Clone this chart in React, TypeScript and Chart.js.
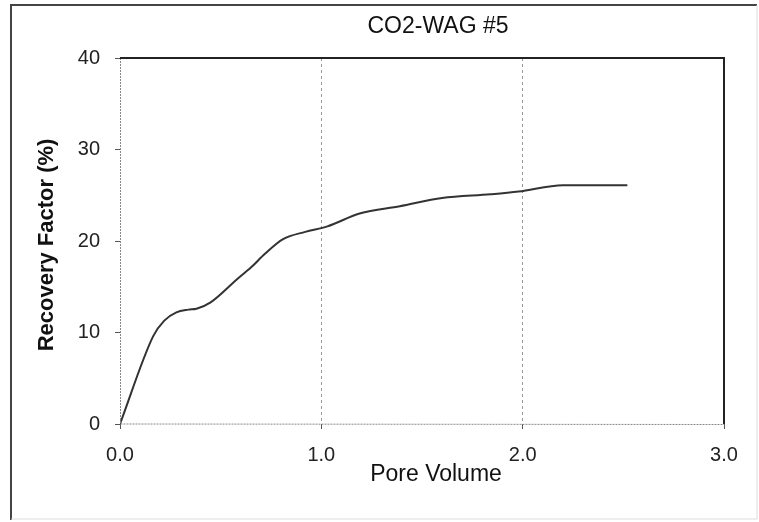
import React, { useEffect, useRef } from "react";
import { Chart, registerables } from "chart.js";

Chart.register(...registerables);

const chartTitle = "CO2-WAG #5";
const xTitle = "Pore Volume";
const yTitle = "Recovery Factor (%)";

const poreVolume = [0, 0.165, 0.22, 0.28, 0.34, 0.38, 0.45, 0.58, 0.65, 0.72, 0.81, 0.92, 1.03, 1.19, 1.39, 1.6, 1.84, 1.98, 2.2, 2.52];
const recovery = [0, 9.6, 11.3, 12.2, 12.5, 12.6, 13.3, 15.8, 17.1, 18.6, 20.2, 21.0, 21.6, 23.0, 23.8, 24.7, 25.1, 25.4, 26.1, 26.1];

const xTicks = [0, 1, 2, 3];
const yTicks = [0, 10, 20, 30, 40];

const FONT = "'Liberation Sans', Arial, sans-serif";

const decor = {
  id: "decor",
  beforeDraw(chart: any) {
    const { ctx } = chart;
    ctx.save();
    ctx.fillStyle = "#fff";
    ctx.fillRect(0, 0, chart.width, chart.height);
    ctx.restore();
  },
  afterDraw(chart: any) {
    const { ctx, chartArea: a } = chart;
    ctx.save();
    // outer frame
    ctx.lineWidth = 2;
    ctx.strokeStyle = "#444";
    ctx.beginPath();
    ctx.moveTo(11, 520);
    ctx.lineTo(11, 5);
    ctx.lineTo(757, 5);
    ctx.stroke();
    ctx.strokeStyle = "#ddd";
    ctx.lineWidth = 1;
    ctx.beginPath();
    ctx.moveTo(757, 5);
    ctx.lineTo(757, 519);
    ctx.lineTo(11, 519);
    ctx.stroke();
    // axes left & bottom (gray dotted)
    ctx.strokeStyle = "#888";
    ctx.lineWidth = 1;
    ctx.setLineDash([2, 1]);
    ctx.beginPath();
    ctx.moveTo(a.left + 0.5, a.top);
    ctx.lineTo(a.left + 0.5, a.bottom);
    ctx.lineTo(a.right, a.bottom + 0.5);
    ctx.stroke();
    ctx.setLineDash([]);
    // top & right solid
    ctx.strokeStyle = "#222";
    ctx.lineWidth = 2;
    ctx.beginPath();
    ctx.moveTo(a.left, a.top);
    ctx.lineTo(a.right, a.top);
    ctx.lineTo(a.right, a.bottom);
    ctx.stroke();
    // titles
    ctx.fillStyle = "#111";
    ctx.textAlign = "center";
    ctx.textBaseline = "middle";
    ctx.font = `23px ${FONT}`;
    ctx.fillText(chartTitle, 438, 27);
    ctx.font = `23px ${FONT}`;
    ctx.fillText(xTitle, 436, 475);
    ctx.translate(47, 245);
    ctx.rotate(-Math.PI / 2);
    ctx.font = `bold 22px ${FONT}`;
    ctx.fillText(yTitle, 0, 0);
    ctx.restore();
  },
};

export default function App() {
  const ref = useRef<HTMLCanvasElement>(null);
  useEffect(() => {
    if (!ref.current) return;
    const chart = new Chart(ref.current, {
      type: "scatter",
      data: {
        datasets: [
          {
            data: poreVolume.map((x, i) => ({ x, y: recovery[i] })),
            showLine: true,
            borderColor: "#333",
            borderWidth: 2,
            pointRadius: 0,
            cubicInterpolationMode: "monotone",
          } as any,
        ],
      },
      options: {
        animation: false,
        responsive: false,
        layout: { padding: { top: 58, right: 35, left: 0, bottom: 0 } },
        plugins: { legend: { display: false }, tooltip: { enabled: false }, title: { display: false } },
        scales: {
          x: {
            type: "linear",
            min: 0,
            max: 3,
            afterBuildTicks: (s: any) => {
              s.ticks = xTicks.map((v) => ({ value: v }));
            },
            afterFit: (s: any) => {
              s.height = 98;
            },
            ticks: {
              font: { family: FONT, size: 20 },
              color: "#222",
              padding: 14,
              maxRotation: 0,
              callback: (v: any) => Number(v).toFixed(1),
            },
            grid: {
              color: (c: any) => (c.tick && (c.tick.value === 1 || c.tick.value === 2) ? "#999" : "rgba(0,0,0,0)"),
              tickColor: "#555",
              tickLength: 5,
              lineWidth: 1,
            },
            border: { display: false, dash: [3, 3] },
          },
          y: {
            type: "linear",
            min: 0,
            max: 40,
            afterBuildTicks: (s: any) => {
              s.ticks = yTicks.map((v) => ({ value: v }));
            },
            afterFit: (s: any) => {
              s.width = 120;
            },
            ticks: {
              font: { family: FONT, size: 20 },
              color: "#222",
              padding: 15,
            },
            grid: {
              drawOnChartArea: false,
              tickColor: "#555",
              tickLength: 5,
            },
            border: { display: false },
          },
        },
      },
      plugins: [decor],
    });
    return () => chart.destroy();
  }, []);
  return (
    <div style={{ position: "fixed", left: 0, top: 0, width: 759, height: 522, background: "#fff" }}>
      <canvas ref={ref} width={759} height={522} style={{ width: 759, height: 522, display: "block" }} />
    </div>
  );
}
